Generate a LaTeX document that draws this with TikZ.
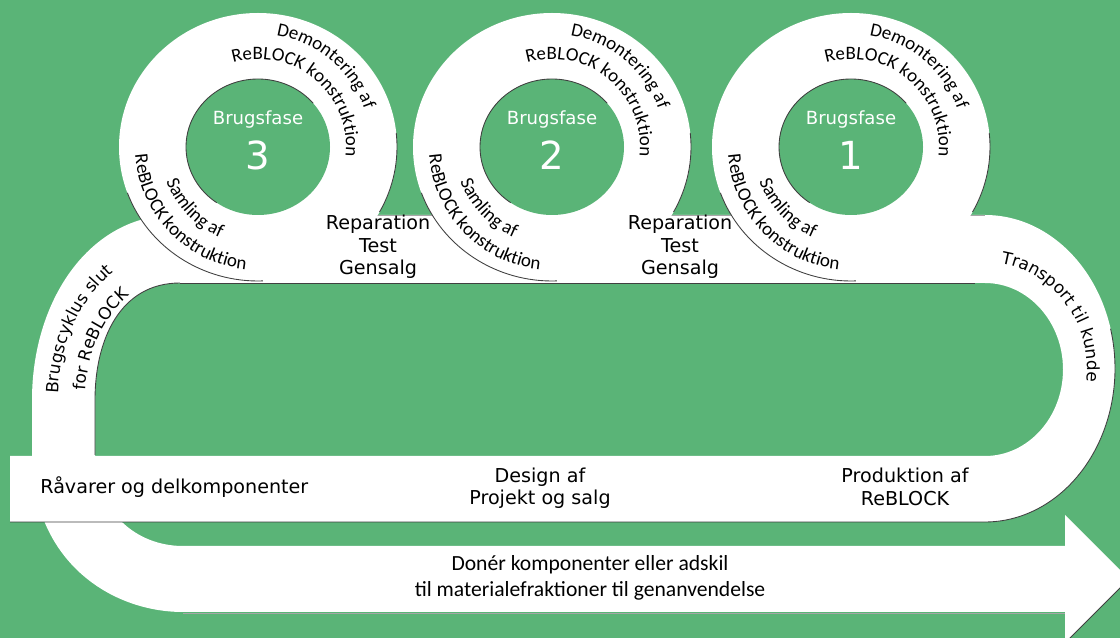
\documentclass[tikz,border=0pt]{standalone}
\usepackage{fontspec}
\setmainfont{DejaVu Sans}
\newfontfamily\ringfont{Carlito}
\usetikzlibrary{decorations.text}
\definecolor{grass}{HTML}{5AB477}

\begin{document}
\begin{tikzpicture}[
  x=0.02cm, y=0.02cm,
  band/.style={fill=white},
  rim/.style={draw=black!75, line width=.5pt},
  faint/.style={draw=black!35, line width=.5pt},
  lbl/.style={font=\fontsize{10.9}{12.8}\selectfont, align=center, inner sep=0pt},
  fase/.style={font=\fontsize{10.3}{12}\selectfont, text=white, inner sep=0pt},
  num/.style={font=\fontsize{22}{24}\selectfont, text=white, inner sep=0pt},
  arctext/.style={decoration={text along path, text align=center, text={#1}}, decorate}
]
\clip (0,0) rectangle (1120,-638);
\fill[grass] (0,0) rectangle (1120,-638);

% end of use, return arrow
\fill[band] (175,-215) .. controls (90,-215) and (32,-300) .. (32,-400) -- (32,-455)
  .. controls (32,-560) and (110,-612) .. (183,-612) -- (1065,-612) -- (1065,-643)
  -- (1129,-579) -- (1065,-515) -- (1065,-546) -- (183,-546)
  .. controls (135,-546) and (95,-510) .. (95,-455) -- (95,-400)
  .. controls (95,-340) and (120,-283) .. (180,-283) -- cycle;

% upper band, turn and lower band
\fill[band] (160,-215) -- (985,-215) arc[start angle=90, end angle=-90, x radius=130, y radius=153.5]
  -- (10,-522) -- (10,-456) -- (985,-456) arc[start angle=-90, end angle=90, x radius=78, y radius=86.5]
  -- (160,-283) -- cycle;
\draw[faint] (160,-215) -- (985,-215);

% use phases
\foreach \n/\x in {3/258, 2/552, 1/851}{
  \coordinate (r\n) at (\x,-147);
  \fill[band] (r\n) ellipse[x radius=139, y radius=134];
  \fill[grass] (r\n) ellipse[x radius=72, y radius=68];
  \draw[rim] (r\n) ++(200:139 and 134) arc[start angle=200, end angle=272, x radius=139, y radius=134];
  \draw[rim] (r\n) ++(6:139 and 134) arc[start angle=6, end angle=-29, x radius=139, y radius=134];
  \draw[rim] (r\n) ++(40:72 and 68) arc[start angle=40, end angle=235, x radius=72, y radius=68];
  \node[fase] (bf\n) at (\x,-120) {Brugsfase};
  \node[num] (num\n) at (\x,-155) {\n};
  \path[arctext={|\ringfont\fontsize{10.8}{13}\selectfont|Demontering af}]
    (r\n) ++(130:113) arc[start angle=130, end angle=-30, radius=113];
  \path[arctext={|\ringfont\fontsize{10.8}{13}\selectfont|ReBLOCK konstruktion}]
    (r\n) ++(130:88) arc[start angle=130, end angle=-30, radius=88];
  \path[arctext={|\ringfont\fontsize{10.8}{13}\selectfont|Samling af}]
    (r\n) ++(144:98) arc[start angle=144, end angle=304, radius=98];
  \path[arctext={|\ringfont\fontsize{10.8}{13}\selectfont|ReBLOCK konstruktion}]
    (r\n) ++(144:123) arc[start angle=144, end angle=304, radius=123];
}

\draw[rim] (180,-283) -- (975,-283);
\draw[rim] (180,-283) .. controls (120,-283) and (95,-340) .. (95,-400) -- (95,-455);
\draw[rim] (10,-522) -- (985,-522) arc[start angle=-90, end angle=15, x radius=130, y radius=153.5];
\draw[rim] (1129,-579) -- (1065,-643);
\draw[faint] (183,-613) -- (1065,-613);

\path[arctext={|\fontsize{9.6}{11}\selectfont|Transport til kunde}]
  (985,-368.5) ++(110:102 and 106) arc[start angle=110, end angle=-35, x radius=102, y radius=106];
\path[arctext={|\fontsize{9.6}{11}\selectfont|Brugscyklus slut}]
  (185,-400) ++(205:127 and 155) arc[start angle=205, end angle=92, x radius=127, y radius=155];
\path[arctext={|\fontsize{9.6}{11}\selectfont|for ReBLOCK}]
  (185,-400) ++(205:100 and 125) arc[start angle=205, end angle=88, x radius=100, y radius=125];

\node[lbl] (rep1) at (378,-247) {Reparation\\Test\\Gensalg};
\node[lbl] (rep2) at (680,-247) {Reparation\\Test\\Gensalg};
\node[lbl, anchor=base west] (raw) at (40,-494) {Råvarer og delkomponenter};
\node[lbl] (design) at (540,-488) {Design af\\Projekt og salg};
\node[lbl] (prod) at (905,-487) {Produktion af\\ReBLOCK};
\node[lbl, font=\ringfont\fontsize{12.3}{14.4}\selectfont] (donate) at (590,-578)
  {Donér komponenter eller adskil\\til materialefraktioner til genanvendelse};
\end{tikzpicture}
\end{document}
